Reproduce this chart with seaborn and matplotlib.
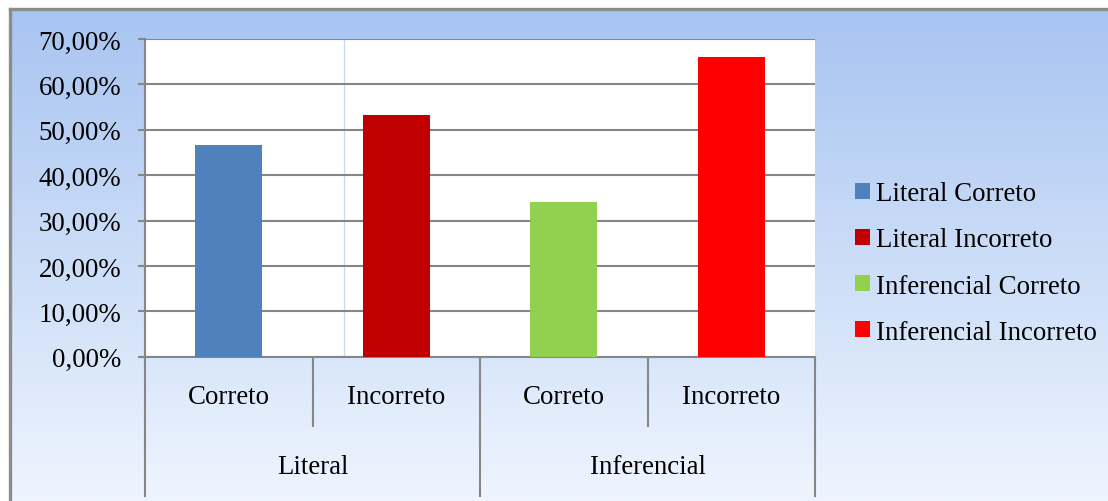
import numpy as np
import pandas as pd
import matplotlib
matplotlib.use("Agg")
import matplotlib.pyplot as plt
import matplotlib.transforms as mtransforms
from matplotlib.colors import LinearSegmentedColormap
from matplotlib.patches import Patch
from matplotlib.ticker import FuncFormatter
import seaborn as sns

# --- data -------------------------------------------------------------
tipos = ["Literal", "Literal", "Inferencial", "Inferencial"]
respostas = ["Correto", "Incorreto", "Correto", "Incorreto"]
series = ["Literal Correto", "Literal Incorreto",
          "Inferencial Correto", "Inferencial Incorreto"]
valores = [0.467, 0.533, 0.340, 0.660]
cores = ["#4F81BD", "#C00000", "#92D050", "#FF0000"]
grupos = ["Literal", "Inferencial"]
yticks = [0.0, 0.1, 0.2, 0.3, 0.4, 0.5, 0.6, 0.7]

# --- style ------------------------------------------------------------
sns.set_theme(style="white")
plt.rcParams["font.family"] = ["Liberation Serif", "DejaVu Serif"]
plt.rcParams["text.color"] = "black"
plt.rcParams["ytick.labelcolor"] = "black"
FS = 19.4
GRAY = "#868686"

W, H = 1108, 502
fig = plt.figure(figsize=(W / 100, H / 100), dpi=100)
fig.patch.set_facecolor("white")


def fx(px):
    return px / W


def fy(py):
    return 1 - py / H


# chart panel with vertical gradient and grey frame
bg = fig.add_axes([fx(10), 0, 1 - fx(10), fy(10)], zorder=0)
grad = np.linspace(0, 1, 256).reshape(-1, 1)
cmap = LinearSegmentedColormap.from_list("fundo", ["#A8C4F1", "#EEF5FE"])
bg.imshow(grad, aspect="auto", cmap=cmap, extent=[0, 1, 0, 1], origin="upper")
bg.set_xticks([])
bg.set_yticks([])
for s in ["right", "bottom"]:
    bg.spines[s].set_visible(False)
for s in ["left", "top"]:
    bg.spines[s].set_color("#8C8C8C")
    bg.spines[s].set_linewidth(2.4)

# plot area
top_px, bot_px = 40, 357.7
ax = fig.add_axes([fx(145), fy(bot_px), fx(815 - 145), (bot_px - top_px) / H], zorder=1)
ax.set_facecolor("white")

df = pd.DataFrame({"serie": series, "valor": valores})
sns.barplot(data=df, x="serie", y="valor", hue="serie", order=series,
            hue_order=series, palette=dict(zip(series, cores)), width=0.4,
            dodge=False, saturation=1, legend=False, ax=ax, zorder=3,
            linewidth=0, edgecolor="none")

ax.set_xlim(-0.5, 3.5)
ax.set_ylim(0, 0.7)
ax.set_yticks(yticks)
ax.yaxis.set_major_formatter(
    FuncFormatter(lambda v, _: f"{v * 100:.2f}%".replace(".", ",")))
ax.yaxis.grid(True, color=GRAY, linewidth=1.5)
ax.xaxis.grid(False)
ax.set_axisbelow(True)
ax.axvline(0.688, color="#C6D9F4", linewidth=0.9, zorder=0.5)

ax.tick_params(axis="y", length=5.2, width=1.5, color=GRAY, pad=12,
               labelsize=FS, labelcolor="black", left=True)
ax.tick_params(axis="x", length=0, labelbottom=False)
ax.set_xlabel("")
ax.set_ylabel("")
for s in ["top", "right"]:
    ax.spines[s].set_visible(False)
for s in ["left", "bottom"]:
    ax.spines[s].set_color(GRAY)
    ax.spines[s].set_linewidth(1.5)

# two-level category axis
h = bot_px - top_px
trans = mtransforms.blended_transform_factory(ax.transData, ax.transAxes)
short_end = -(428 - bot_px) / h
full_end = -(498 - bot_px) / h
for xb in [-0.5, 1.5, 3.5]:
    ax.plot([xb, xb], [0, full_end], transform=trans, clip_on=False,
            color=GRAY, linewidth=1.5, solid_capstyle="butt")
for xb in [0.5, 2.5]:
    ax.plot([xb, xb], [0, short_end], transform=trans, clip_on=False,
            color=GRAY, linewidth=1.5, solid_capstyle="butt")
for i, r in enumerate(respostas):
    ax.text(i, -(398 - bot_px) / h, r, transform=trans, ha="center",
            va="center", fontsize=FS, color="black")
for j, g in enumerate(grupos):
    ax.text(2 * j + 0.5, -(468 - bot_px) / h, g, transform=trans,
            ha="center", va="center", fontsize=FS, color="black")

# legend
handles = [Patch(facecolor=c, edgecolor="none") for c in cores]
leg = fig.legend(handles, series, loc="center left",
                 bbox_to_anchor=(fx(855), fy(264)),
                 bbox_transform=fig.transFigure, frameon=False, fontsize=FS,
                 handlelength=0.56, handleheight=0.56, handletextpad=0.23,
                 labelspacing=0.78, borderpad=0, borderaxespad=0)
for t in leg.get_texts():
    t.set_color("black")

fig.savefig("out.png", dpi=100)
